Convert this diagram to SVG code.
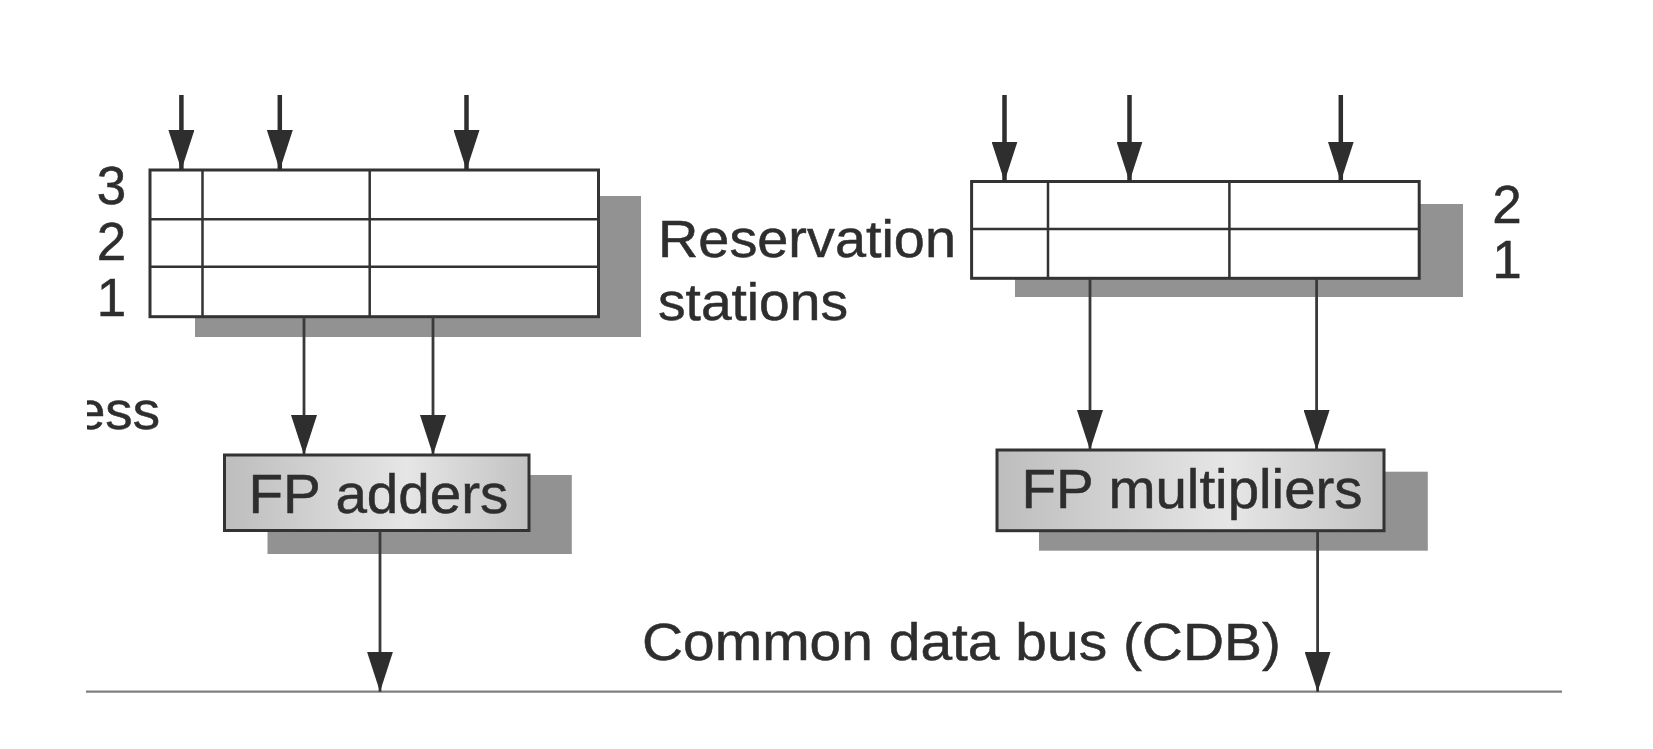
<svg xmlns="http://www.w3.org/2000/svg" width="1653" height="749" viewBox="0 0 1653 749">
<style>
text{font-family:"Liberation Sans",Arial,Helvetica,sans-serif;fill:#2e2e2e;stroke:#2e2e2e;stroke-width:0.5}
.shadow{fill:#929292}
.tbl{fill:#fff;stroke:#333;stroke-width:3}
.grid{stroke:#333;stroke-width:2.5;fill:none}
.fp{fill:url(#fpgrad);stroke:#333;stroke-width:3}
.in{stroke:#2e2e2e;stroke-width:4.5;fill:none;marker-end:url(#ah)}
.out{stroke:#3a3a3a;stroke-width:2.8;fill:none;marker-end:url(#ah)}
.lbl{font-size:51px}
.num{font-size:53px;text-anchor:middle}
.fpt{font-size:56px}
</style>
<defs>
<marker id="ah" viewBox="0 0 40 26" refX="40" refY="13" markerWidth="40" markerHeight="26" markerUnits="userSpaceOnUse" orient="auto">
<path d="M0,0 L40,13 L0,26 z" fill="#2e2e2e"/>
</marker>
<linearGradient id="fpgrad" x1="0" y1="0" x2="1" y2="0">
<stop offset="0" stop-color="#bdbdbd"/>
<stop offset="0.6" stop-color="#e6e6e6"/>
<stop offset="1" stop-color="#c2c2c2"/>
</linearGradient>
<clipPath id="clipL"><rect x="87" y="0" width="200" height="749"/></clipPath>
</defs>
<rect width="1653" height="749" fill="#fff"/>

<g id="rs-left">
<rect class="shadow" x="195" y="196" width="446" height="141"/>
<rect class="tbl" x="150" y="170" width="448.5" height="146.7"/>
<path class="grid" d="M150,219.3 H598.5 M150,266.7 H598.5 M202.5,170 V316.7 M369.7,170 V316.7"/>
<text class="num" x="111.5" y="204">3</text>
<text class="num" x="111.5" y="260">2</text>
<text class="num" x="111.5" y="316">1</text>
</g>

<g id="rs-right">
<rect class="shadow" x="1015" y="204" width="448" height="93"/>
<rect class="tbl" x="971.6" y="181.5" width="447.6" height="96.8"/>
<path class="grid" d="M971.6,229 H1419.2 M1048,181.5 V278.3 M1229.4,181.5 V278.3"/>
<text class="num" x="1507" y="223">2</text>
<text class="num" x="1507" y="278">1</text>
</g>

<g id="rs-label">
<text class="lbl" x="658" y="257" textLength="298" lengthAdjust="spacingAndGlyphs">Reservation</text>
<text class="lbl" x="658" y="320" textLength="190" lengthAdjust="spacingAndGlyphs">stations</text>
</g>

<g id="address-label" clip-path="url(#clipL)">
<text class="lbl" x="75" y="429" textLength="85" lengthAdjust="spacingAndGlyphs">ess</text>
</g>

<g id="fp-adders">
<rect class="shadow" x="267.5" y="475" width="304.3" height="79"/>
<rect class="fp" x="224.5" y="455" width="304.5" height="75.5"/>
<text class="fpt" x="248.4" y="513" textLength="260" lengthAdjust="spacingAndGlyphs">FP adders</text>
</g>

<g id="fp-multipliers">
<rect class="shadow" x="1039" y="471.7" width="388.8" height="79"/>
<rect class="fp" x="997" y="450" width="387" height="80.7"/>
<text class="fpt" x="1021.6" y="507.5" textLength="341" lengthAdjust="spacingAndGlyphs">FP multipliers</text>
</g>

<g id="cdb">
<line x1="86" y1="691.7" x2="1562" y2="691.7" stroke="#808080" stroke-width="2.2"/>
<text class="lbl" x="642" y="660" textLength="639" lengthAdjust="spacingAndGlyphs">Common data bus (CDB)</text>
</g>

<g id="connectors">
<line class="in" x1="181.4" y1="95" x2="181.4" y2="170"/>
<line class="in" x1="279.8" y1="95" x2="279.8" y2="170"/>
<line class="in" x1="466.5" y1="95" x2="466.5" y2="170"/>
<line class="in" x1="1004.5" y1="95" x2="1004.5" y2="181.5"/>
<line class="in" x1="1129.5" y1="95" x2="1129.5" y2="181.5"/>
<line class="in" x1="1340.8" y1="95" x2="1340.8" y2="181.5"/>
<line class="out" x1="304" y1="316.7" x2="304" y2="455"/>
<line class="out" x1="433" y1="316.7" x2="433" y2="455"/>
<line class="out" x1="1090" y1="278.3" x2="1090" y2="450"/>
<line class="out" x1="1316.6" y1="278.3" x2="1316.6" y2="450"/>
<line class="out" x1="380" y1="530.5" x2="380" y2="691.7"/>
<line class="out" x1="1317.6" y1="530.7" x2="1317.6" y2="691.7"/>
</g>
</svg>
